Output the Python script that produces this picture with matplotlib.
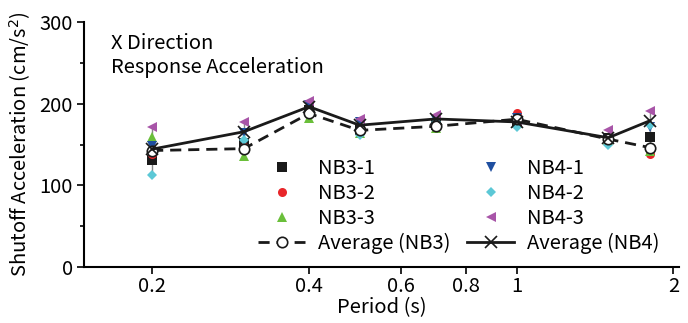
import numpy as np
import matplotlib.pyplot as plt

plt.rcParams['font.family'] = ['Noto Sans CJK JP', 'DejaVu Sans']

# natural periods of the measured buildings (s)
period = [0.2, 0.3, 0.4, 0.5, 0.7, 1.0, 1.5, 1.8]

# shutoff acceleration per unit (cm/s^2)
nb3_1 = [131, 152, 192, 168, 174, 178, 158, 159]
nb3_2 = [138, 147, 190, 170, 173, 189, 157, 138]
nb3_3 = [159, 136, 182, 164, 170, 176, 155, 142]
nb4_1 = [148, 164, 198, 178, 180, 182, 157, 172]
nb4_2 = [113, 156, 188, 162, 178, 171, 150, 174]
nb4_3 = [172, 177, 203, 181, 186, 180, 168, 191]

avg_nb3 = np.mean([nb3_1, nb3_2, nb3_3], axis=0)
avg_nb4 = np.mean([nb4_1, nb4_2, nb4_3], axis=0)

FS = 14.5

fig = plt.figure(figsize=(6.88, 3.23), dpi=100)
ax = fig.add_axes([0.122, 0.173, 0.865, 0.759])

# spread of the six units at each period
allv = np.array([nb3_1, nb3_2, nb3_3, nb4_1, nb4_2, nb4_3])
ax.vlines(period, allv.min(axis=0), allv.max(axis=0), color='#888888', lw=1, zorder=1)

series = [
    (nb3_1, 's', '#1a1a1a', 'NB3-1'),
    (nb3_2, 'o', '#e8262a', 'NB3-2'),
    (nb3_3, '^', '#6abf3a', 'NB3-3'),
    (nb4_1, 'v', '#1f4fa0', 'NB4-1'),
    (nb4_2, 'D', '#5cc8d6', 'NB4-2'),
    (nb4_3, '<', '#a855a8', 'NB4-3'),
]
handles = []
for vals, mk, col, lab in series:
    ms = 5.5 if mk == 'D' else 6.5
    h, = ax.plot(period, vals, ls='none', marker=mk, color=col, ms=ms,
                 markeredgewidth=0, label=lab, zorder=3)
    handles.append(h)

h_a3, = ax.plot(period, avg_nb3, ls=(0, (4, 2.5)), color='#1a1a1a', lw=2,
                marker='o', ms=7.5, mfc='white', mec='#1a1a1a', mew=1.2,
                label='Average (NB3)', zorder=4)
h_a4, = ax.plot(period, avg_nb4, ls='-', color='#1a1a1a', lw=2,
                marker='x', ms=8, mec='#1a1a1a', mew=1.2,
                label='Average (NB4)', zorder=4)

order = handles[:3] + [h_a3] + handles[3:] + [h_a4]
ax.legend(handles=order, ncol=2, frameon=False, loc='lower left',
          bbox_to_anchor=(0.262, -0.02), fontsize=FS, handlelength=2.35,
          handletextpad=0.65, columnspacing=0.8, labelspacing=0.2)

ax.set_xscale('log')
ax.set_xlim(0.148, 2.05)
ax.set_ylim(0, 300)
ax.set_xticks([0.2, 0.4, 0.6, 0.8, 1, 2])
ax.set_xticklabels(['0.2', '0.4', '0.6', '0.8', '1', '2'])
ax.xaxis.set_minor_locator(plt.NullLocator())
ax.set_yticks([0, 100, 200, 300])
ax.set_yticks([50, 150, 250], minor=True)
ax.tick_params(axis='both', which='major', direction='out', length=5, width=1.2,
               labelsize=FS, pad=3)
ax.tick_params(axis='x', which='major', pad=1.5)
ax.tick_params(axis='y', which='minor', direction='out', length=3, width=1.2)

for s in ['top', 'right']:
    ax.spines[s].set_visible(False)
for s in ['left', 'bottom']:
    ax.spines[s].set_linewidth(1.5)

ax.set_xlabel('Period (s)', fontsize=FS, labelpad=0)
ax.set_ylabel('Shutoff Acceleration (cm/s$^2$)', fontsize=FS, labelpad=5)

ax.text(0.045, 0.955, 'X Direction\nResponse Acceleration', transform=ax.transAxes,
        fontsize=FS, va='top', ha='left', linespacing=1.2)

fig.savefig('out.png', dpi=100)
